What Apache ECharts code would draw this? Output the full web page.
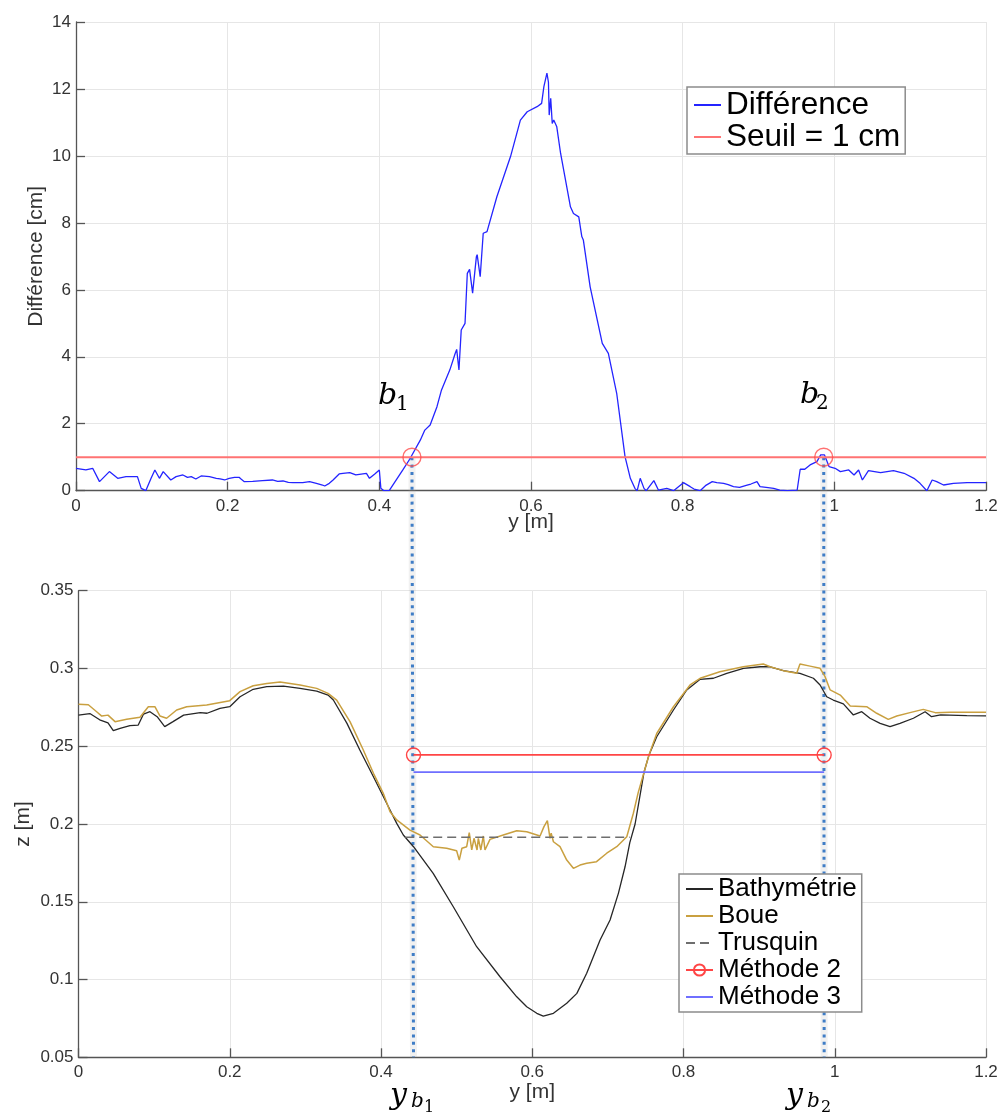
<!DOCTYPE html>
<html>
<head>
<meta charset="utf-8">
<script src="https://cdn.jsdelivr.net/npm/echarts@6/dist/echarts.min.js"></script>
<style>
html, body { margin: 0; padding: 0; background: #ffffff; }
#chart { width: 1003px; height: 1112px; }
</style>
</head>
<body>
<div id="chart"></div>
<script>
// ---- Upper panel: difference between mud surface and bathymetry, [y (m), diff (cm)] ----
const diffPoints = [
  [0, 0.67], [0.013, 0.62], [0.022, 0.67], [0.031, 0.27], [0.044, 0.57], [0.055, 0.37], [0.066, 0.42],
  [0.081, 0.42], [0.086, 0.07], [0.092, 0.00], [0.099, 0.37], [0.104, 0.62], [0.110, 0.37], [0.115, 0.57],
  [0.125, 0.32], [0.132, 0.42], [0.141, 0.47], [0.147, 0.40], [0.152, 0.42], [0.158, 0.35], [0.165, 0.44],
  [0.176, 0.42], [0.185, 0.37], [0.190, 0.35], [0.196, 0.32], [0.202, 0.37], [0.209, 0.40], [0.215, 0.40],
  [0.218, 0.34], [0.222, 0.27], [0.233, 0.28], [0.246, 0.30], [0.259, 0.32], [0.266, 0.28], [0.273, 0.29],
  [0.280, 0.25], [0.286, 0.24], [0.299, 0.24], [0.308, 0.27], [0.317, 0.22], [0.325, 0.17], [0.328, 0.14],
  [0.334, 0.22], [0.339, 0.32], [0.347, 0.50], [0.352, 0.52], [0.361, 0.54], [0.369, 0.47], [0.383, 0.52],
  [0.387, 0.37], [0.394, 0.50], [0.400, 0.62], [0.402, 0.07], [0.406, 0.00], [0.413, 0.00], [0.431, 0.62],
  [0.440, 0.94], [0.454, 1.51], [0.460, 1.81], [0.467, 1.96], [0.476, 2.51], [0.482, 3.01], [0.493, 3.61],
  [0.500, 4.10], [0.502, 4.22], [0.505, 3.61], [0.508, 4.80], [0.513, 5.00], [0.516, 6.49], [0.519, 6.61],
  [0.523, 5.90], [0.528, 6.99], [0.529, 7.05], [0.533, 6.39], [0.537, 7.69], [0.542, 7.74], [0.555, 8.78],
  [0.573, 9.98], [0.586, 11.07], [0.595, 11.32], [0.608, 11.47], [0.614, 11.57], [0.617, 12.07], [0.621, 12.47],
  [0.623, 12.20], [0.624, 11.22], [0.626, 11.72], [0.628, 10.97], [0.630, 11.07], [0.634, 10.87], [0.639, 10.08],
  [0.652, 8.48], [0.656, 8.28], [0.663, 8.18], [0.667, 7.59], [0.669, 7.49], [0.678, 6.09], [0.694, 4.40],
  [0.702, 4.10], [0.713, 2.91], [0.724, 1.02], [0.731, 0.37], [0.737, 0.07], [0.740, 0.00], [0.744, 0.37],
  [0.746, 0.42], [0.749, 0.07], [0.752, 0.00], [0.762, 0.30], [0.768, 0.02], [0.779, 0.07], [0.788, 0.00],
  [0.801, 0.24], [0.810, 0.12], [0.815, 0.05], [0.823, 0.00], [0.830, 0.15], [0.839, 0.27], [0.845, 0.24],
  [0.854, 0.22], [0.860, 0.18], [0.867, 0.12], [0.875, 0.10], [0.885, 0.17], [0.890, 0.20], [0.898, 0.27],
  [0.902, 0.12], [0.910, 0.10], [0.920, 0.07], [0.928, 0.02], [0.938, 0.00], [0.951, 0.02], [0.955, 0.64],
  [0.961, 0.64], [0.968, 0.77], [0.977, 0.87], [0.982, 1.07], [0.987, 1.07], [0.993, 0.72], [1.001, 0.67],
  [1.008, 0.57], [1.019, 0.62], [1.026, 0.47], [1.032, 0.62], [1.037, 0.32], [1.045, 0.60], [1.061, 0.54],
  [1.078, 0.60], [1.092, 0.52], [1.105, 0.37], [1.113, 0.22], [1.122, 0.00], [1.129, 0.32], [1.135, 0.27],
  [1.144, 0.17], [1.157, 0.22], [1.175, 0.24], [1.200, 0.24]
];
const SEUIL = 1;          // threshold [cm]
const B1 = 0.443;         // first crossing y_b1 [m]
const B2 = 0.986;         // second crossing y_b2 [m]

// ---- Lower panel: profiles, [y (m), z (m)] ----
const bathyPoints = [
  [0, 0.2700], [0.015, 0.2710], [0.028, 0.2670], [0.039, 0.2650], [0.046, 0.2600], [0.055, 0.2615],
  [0.068, 0.2632], [0.079, 0.2636], [0.086, 0.2707], [0.0945, 0.2722], [0.104, 0.2690], [0.114, 0.2626],
  [0.125, 0.2658], [0.139, 0.2700], [0.161, 0.2716], [0.170, 0.2712], [0.187, 0.2744], [0.200, 0.2754],
  [0.2136, 0.2818], [0.231, 0.2866], [0.249, 0.2883], [0.271, 0.2887], [0.293, 0.2872], [0.315, 0.2855],
  [0.330, 0.2829], [0.337, 0.2797], [0.355, 0.2647], [0.372, 0.2476], [0.390, 0.2304], [0.4075, 0.2133],
  [0.4208, 0.2004], [0.4295, 0.1929], [0.443, 0.1854], [0.469, 0.1683], [0.4956, 0.1468], [0.5265, 0.1211],
  [0.5574, 0.1018], [0.5795, 0.0889], [0.5927, 0.0825], [0.606, 0.0783], [0.6146, 0.0765], [0.628, 0.0783],
  [0.6456, 0.0847], [0.659, 0.0911], [0.672, 0.1040], [0.6897, 0.1254], [0.7029, 0.1383], [0.7139, 0.1554],
  [0.7227, 0.1725], [0.729, 0.1880], [0.736, 0.2000], [0.742, 0.2170], [0.7478, 0.2333], [0.7544, 0.2444],
  [0.7646, 0.2561], [0.7867, 0.2733], [0.8043, 0.2862], [0.822, 0.2930], [0.8396, 0.2937], [0.8572, 0.2969],
  [0.8793, 0.3001], [0.9015, 0.3011], [0.9145, 0.3011], [0.932, 0.2986], [0.954, 0.2969], [0.9718, 0.2937],
  [0.9806, 0.2894], [0.9894, 0.2818], [0.998, 0.2797], [1.0114, 0.2772], [1.0246, 0.2701], [1.0357, 0.2722],
  [1.0466, 0.2680], [1.060, 0.2647], [1.0731, 0.2626], [1.0863, 0.2647], [1.104, 0.2680], [1.1195, 0.2722],
  [1.128, 0.2690], [1.140, 0.2701], [1.1746, 0.2697], [1.200, 0.2695]
];
const bouePoints = [
  [0, 0.2770], [0.013, 0.2767], [0.024, 0.2722], [0.0307, 0.2694], [0.039, 0.2700], [0.0483, 0.2658],
  [0.0637, 0.2673], [0.0813, 0.2686], [0.0923, 0.2754], [0.101, 0.2754], [0.1078, 0.2694], [0.1165, 0.2680],
  [0.1298, 0.2733], [0.1431, 0.2754], [0.1695, 0.2765], [0.200, 0.2793], [0.2136, 0.2851], [0.231, 0.2889],
  [0.249, 0.2904], [0.2665, 0.2913], [0.293, 0.2894], [0.315, 0.2872], [0.330, 0.2840], [0.3414, 0.2797],
  [0.359, 0.2658], [0.3766, 0.2476], [0.390, 0.2326], [0.403, 0.2197], [0.412, 0.2079], [0.4208, 0.2026],
  [0.4383, 0.1961], [0.4516, 0.1929], [0.4692, 0.1854], [0.4868, 0.1844], [0.500, 0.1828], [0.5035, 0.1768],
  [0.507, 0.1844], [0.5133, 0.1854], [0.5167, 0.1944], [0.520, 0.1833], [0.523, 0.1908], [0.527, 0.1833],
  [0.5287, 0.1908], [0.532, 0.1833], [0.5353, 0.1923], [0.5375, 0.1833], [0.5441, 0.1901], [0.5617, 0.1929],
  [0.5795, 0.1957], [0.5927, 0.1950], [0.6103, 0.1923], [0.6155, 0.1983], [0.620, 0.2021], [0.6235, 0.1908],
  [0.625, 0.1941], [0.628, 0.1886], [0.6367, 0.1854], [0.6456, 0.1768], [0.6544, 0.1715], [0.6632, 0.1736],
  [0.672, 0.1747], [0.685, 0.1758], [0.6985, 0.1812], [0.7117, 0.1854], [0.725, 0.1918], [0.7337, 0.2069],
  [0.740, 0.2200], [0.7478, 0.2333], [0.7544, 0.2444], [0.7646, 0.2582], [0.7867, 0.2754], [0.8087, 0.2894],
  [0.822, 0.2937], [0.848, 0.2979], [0.879, 0.3011], [0.9055, 0.3029], [0.9145, 0.3011], [0.932, 0.2986],
  [0.9497, 0.2969], [0.954, 0.3029], [0.9673, 0.3015], [0.9806, 0.3001], [0.9872, 0.2947], [0.9939, 0.2862],
  [1.0073, 0.2829], [1.0205, 0.2759], [1.0422, 0.2754], [1.0555, 0.2712], [1.0708, 0.2673], [1.082, 0.2694],
  [1.0995, 0.2716], [1.117, 0.2737], [1.133, 0.2716], [1.1524, 0.2718], [1.200, 0.2718]
];
const trusquinY = [0.432, 0.729];
const trusquinZ = 0.1915;
const methode2Z = 0.2444;
const methode3Z = 0.2333;
const Z_MIN = 0.05;

const yTicks = { min: 0, max: 1.2, step: 0.2 };

const FONT = '"Liberation Sans", Arial, Helvetica, sans-serif';
const MATH = '"DejaVu Serif", "Liberation Serif", serif';
const fmt = v => String(+v.toFixed(2));

function xAxis(gi, gap) {
  return {
    type: 'value', gridIndex: gi,
    min: yTicks.min, max: yTicks.max, interval: yTicks.step,
    name: 'y [m]', nameLocation: 'middle', nameGap: gap, nameMoveOverlap: false,
    nameTextStyle: { fontSize: 21, color: '#333', fontFamily: FONT },
    axisLine: { onZero: false, lineStyle: { color: '#555', width: 1.3 } },
    axisTick: { inside: true, length: 9, lineStyle: { color: '#555', width: 1.3 } },
    axisLabel: { fontSize: 17, color: '#333', fontFamily: FONT, margin: 7, formatter: fmt },
    splitLine: { show: true, lineStyle: { color: '#e6e6e6', width: 1 } }
  };
}
function yAxis(gi, name, min, max, step, gap) {
  return {
    type: 'value', gridIndex: gi, min, max, interval: step,
    name, nameLocation: 'middle', nameGap: gap, nameMoveOverlap: false,
    nameTextStyle: { fontSize: 21, color: '#333', fontFamily: FONT },
    axisLine: { show: true, onZero: false, lineStyle: { color: '#555', width: 1.3 } },
    axisTick: { show: true, inside: true, length: 9, lineStyle: { color: '#555', width: 1.3 } },
    axisLabel: { fontSize: 17, color: '#333', fontFamily: FONT, margin: 5, formatter: fmt },
    splitLine: { show: true, lineStyle: { color: '#e6e6e6', width: 1 } }
  };
}

const noMarker = { opacity: 0 };
const chart = echarts.init(document.getElementById('chart'), null, { renderer: 'canvas' });

chart.setOption({
  animation: false,
  backgroundColor: '#ffffff',
  grid: [
    { left: 76, right: 17, top: 22, height: 468.7 },
    { left: 78.5, right: 17, top: 590.7, height: 466.6 }
  ],
  xAxis: [xAxis(0, 21), xAxis(1, 24)],
  yAxis: [
    yAxis(0, 'Différence [cm]', 0, 14, 2, 29),
    yAxis(1, 'z [m]', 0.05, 0.35, 0.05, 45)
  ],
  legend: [
    {
      data: [
        { name: 'Différence', itemStyle: noMarker },
        { name: 'Seuil = 1 cm', itemStyle: noMarker }
      ],
      orient: 'vertical', left: 687, top: 87,
      padding: [2, 5, 1, 6], itemGap: 0, itemWidth: 27, itemHeight: 14,
      backgroundColor: '#ffffff', borderColor: '#8c8c8c', borderWidth: 1.5,
      textStyle: { fontSize: 31.5, color: '#000', fontFamily: FONT },
      selectedMode: false
    },
    {
      data: [
        { name: 'Bathymétrie', itemStyle: noMarker },
        { name: 'Boue', itemStyle: noMarker },
        { name: 'Trusquin', itemStyle: noMarker },
        { name: 'Méthode 2' },
        { name: 'Méthode 3', itemStyle: noMarker }
      ],
      orient: 'vertical', left: 679, top: 874,
      padding: [2, 5, 2, 6], itemGap: 1, itemWidth: 27, itemHeight: 14,
      backgroundColor: '#ffffff', borderColor: '#8c8c8c', borderWidth: 1.5,
      textStyle: { fontSize: 26, color: '#000', fontFamily: FONT },
      selectedMode: false
    }
  ],
  series: [
    {
      name: 'Différence', type: 'line', xAxisIndex: 0, yAxisIndex: 0,
      data: diffPoints, symbol: 'none', silent: true,
      lineStyle: { color: '#2424ff', width: 1.3 }, itemStyle: { color: '#2424ff' }
    },
    {
      name: 'Seuil = 1 cm', type: 'line', xAxisIndex: 0, yAxisIndex: 0,
      data: [[yTicks.min, SEUIL], [yTicks.max, SEUIL]], symbol: 'none', silent: true,
      lineStyle: { color: '#ff7373', width: 2 }, itemStyle: { color: '#ff7373' }
    },
    {
      name: 'seuil-croisement', type: 'scatter', xAxisIndex: 0, yAxisIndex: 0,
      data: [[B1, SEUIL], [B2, SEUIL]], symbol: 'circle', symbolSize: 18, silent: true, z: 3,
      itemStyle: { color: 'rgba(0,0,0,0)', borderColor: '#ff4d4d', borderWidth: 1.4 }
    },
    {
      name: 'Bathymétrie', type: 'line', xAxisIndex: 1, yAxisIndex: 1,
      data: bathyPoints, symbol: 'none', silent: true,
      lineStyle: { color: '#262626', width: 1.3 }, itemStyle: { color: '#262626' }
    },
    {
      name: 'Boue', type: 'line', xAxisIndex: 1, yAxisIndex: 1,
      data: bouePoints, symbol: 'none', silent: true,
      lineStyle: { color: '#c9a040', width: 1.5 }, itemStyle: { color: '#c9a040' }
    },
    {
      name: 'Trusquin', type: 'line', xAxisIndex: 1, yAxisIndex: 1,
      data: trusquinY.map(y => [y, trusquinZ]), symbol: 'none', silent: true,
      lineStyle: { color: '#6e6e6e', width: 1.6, type: [9, 5] }, itemStyle: { color: '#6e6e6e' }
    },
    {
      name: 'Méthode 2', type: 'line', xAxisIndex: 1, yAxisIndex: 1,
      data: [[B1, methode2Z], [B2, methode2Z]], symbol: 'circle', symbolSize: 14, silent: true,
      lineStyle: { color: '#ff4545', width: 1.8 },
      itemStyle: { color: 'rgba(0,0,0,0)', borderColor: '#ff4545', borderWidth: 1.4 }
    },
    {
      name: 'Méthode 3', type: 'line', xAxisIndex: 1, yAxisIndex: 1,
      data: [[B1, methode3Z], [B2, methode3Z]], symbol: 'none', silent: true,
      lineStyle: { color: '#6f6fff', width: 1.8 }, itemStyle: { color: '#6f6fff' }
    }
  ]
});

// Vertical guides from each threshold crossing down to the lower axis, plus math labels
function drawGuides() {
  const els = [];
  [B1, B2].forEach(b => {
    const p0 = chart.convertToPixel({ gridIndex: 0 }, [b, SEUIL]);
    const p1 = chart.convertToPixel({ gridIndex: 1 }, [b, Z_MIN]);
    const shape = { x1: p0[0], y1: p0[1], x2: p1[0], y2: p1[1] };
    els.push({ type: 'line', z: 3, silent: true, shape,
      style: { stroke: 'rgba(170,170,170,0.16)', lineWidth: 7 } });
    els.push({ type: 'line', z: 3, silent: true, shape,
      style: { stroke: '#3f7dc6', lineWidth: 3, lineDash: [3, 4.4], lineCap: 'butt' } });
  });
  const txt = (text, x, y, size, italic) => ({
    type: 'text', z: 5, silent: true, x, y,
    style: { text, fill: '#000', font: (italic ? 'italic ' : '') + size + 'px ' + MATH,
      align: 'left', verticalAlign: 'middle' }
  });
  els.push(txt('b', 378, 396, 30, true), txt('1', 396, 405, 20, false));
  els.push(txt('b', 800, 395, 30, true), txt('2', 816, 404, 20, false));
  els.push(txt('y', 390, 1096, 30, true), txt('b', 411, 1102, 20, true), txt('1', 424, 1108, 16, false));
  els.push(txt('y', 786, 1096, 30, true), txt('b', 807, 1102, 20, true), txt('2', 821, 1108, 16, false));
  chart.setOption({ graphic: els });
}
drawGuides();
</script>
</body>
</html>
